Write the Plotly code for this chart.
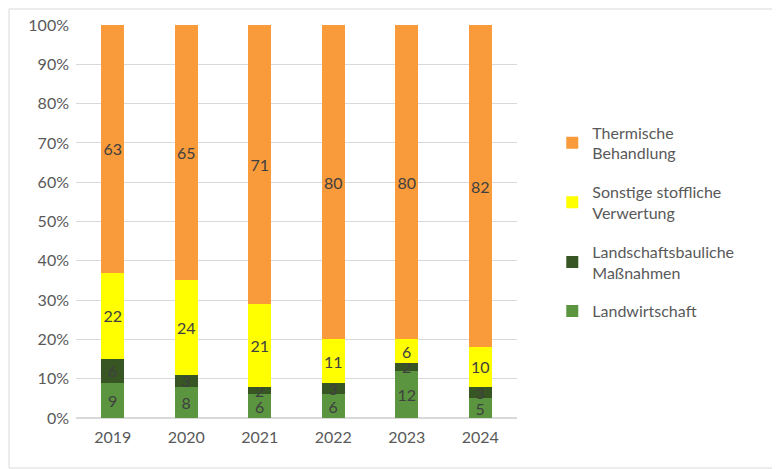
import plotly.graph_objects as go

# years on the x axis
years = ["2019", "2020", "2021", "2022", "2023", "2024"]

# shares per year (%), bottom to top of each stack
landwirtschaft = [9, 8, 6, 6, 12, 5]
landschaftsbau = [6, 3, 2, 3, 2, 3]
sonstige = [22, 24, 21, 11, 6, 10]
thermisch = [63, 65, 71, 80, 80, 82]

series = [
    ("Landwirtschaft", landwirtschaft, "#5B9540"),
    ("Landschaftsbauliche<br>Maßnahmen", landschaftsbau, "#375623"),
    ("Sonstige stoffliche<br>Verwertung", sonstige, "#FFFF00"),
    ("Thermische<br>Behandlung", thermisch, "#F99A3B"),
]

fig = go.Figure()
for i, (name, vals, col) in enumerate(series):
    fig.add_trace(go.Bar(
        name=name,
        x=years,
        y=vals,
        text=vals,
        textposition="inside",
        insidetextanchor="middle",
        textangle=0,
        textfont=dict(color="#404040", size=16),
        marker=dict(color=col, line=dict(width=0)),
        legendgroup=name,
        legendrank=10 - i,  # top of stack first in legend
    ))

# page body adds 8px, so the figure is a bit smaller than the window
W, H = 772, 461
L, R, T, B = 68, 263, 17, 51
pw = W - L - R
ph = H - T - B

fig.update_layout(
    barmode="stack",
    bargap=0.69,
    width=W,
    height=H,
    margin=dict(l=L, r=R, t=T, b=B, autoexpand=False),
    paper_bgcolor="white",
    plot_bgcolor="white",
    font=dict(family="Lato, Open Sans, sans-serif", color="#595959", size=16),
    uniformtext=dict(minsize=16, mode="show"),
    legend=dict(
        traceorder="grouped",
        tracegroupgap=15,
        x=1.08,
        xanchor="left",
        y=0.77,
        yanchor="top",
        font=dict(size=16, color="#595959"),
        itemwidth=30,
    ),
    xaxis=dict(showgrid=False, showline=False, ticks="", ticklabelstandoff=8,
               automargin=False, tickfont=dict(size=16)),
    yaxis=dict(
        range=[0, 100],
        dtick=10,
        ticksuffix="%",
        showgrid=True,
        gridcolor="#D9D9D9",
        gridwidth=1,
        zeroline=True,
        zerolinecolor="#D9D9D9",
        ticks="",
        ticklabelstandoff=6,
        automargin=False,
        tickfont=dict(size=16),
    ),
    shapes=[dict(
        type="rect", xref="paper", yref="paper",
        x0=-(L - 1) / pw, x1=1 + (R - 1) / pw,
        y0=-(B - 1) / ph, y1=1 + (T - 1) / ph,
        line=dict(color="#D9D9D9", width=1),
    )],
)

fig.write_html("out.html")
